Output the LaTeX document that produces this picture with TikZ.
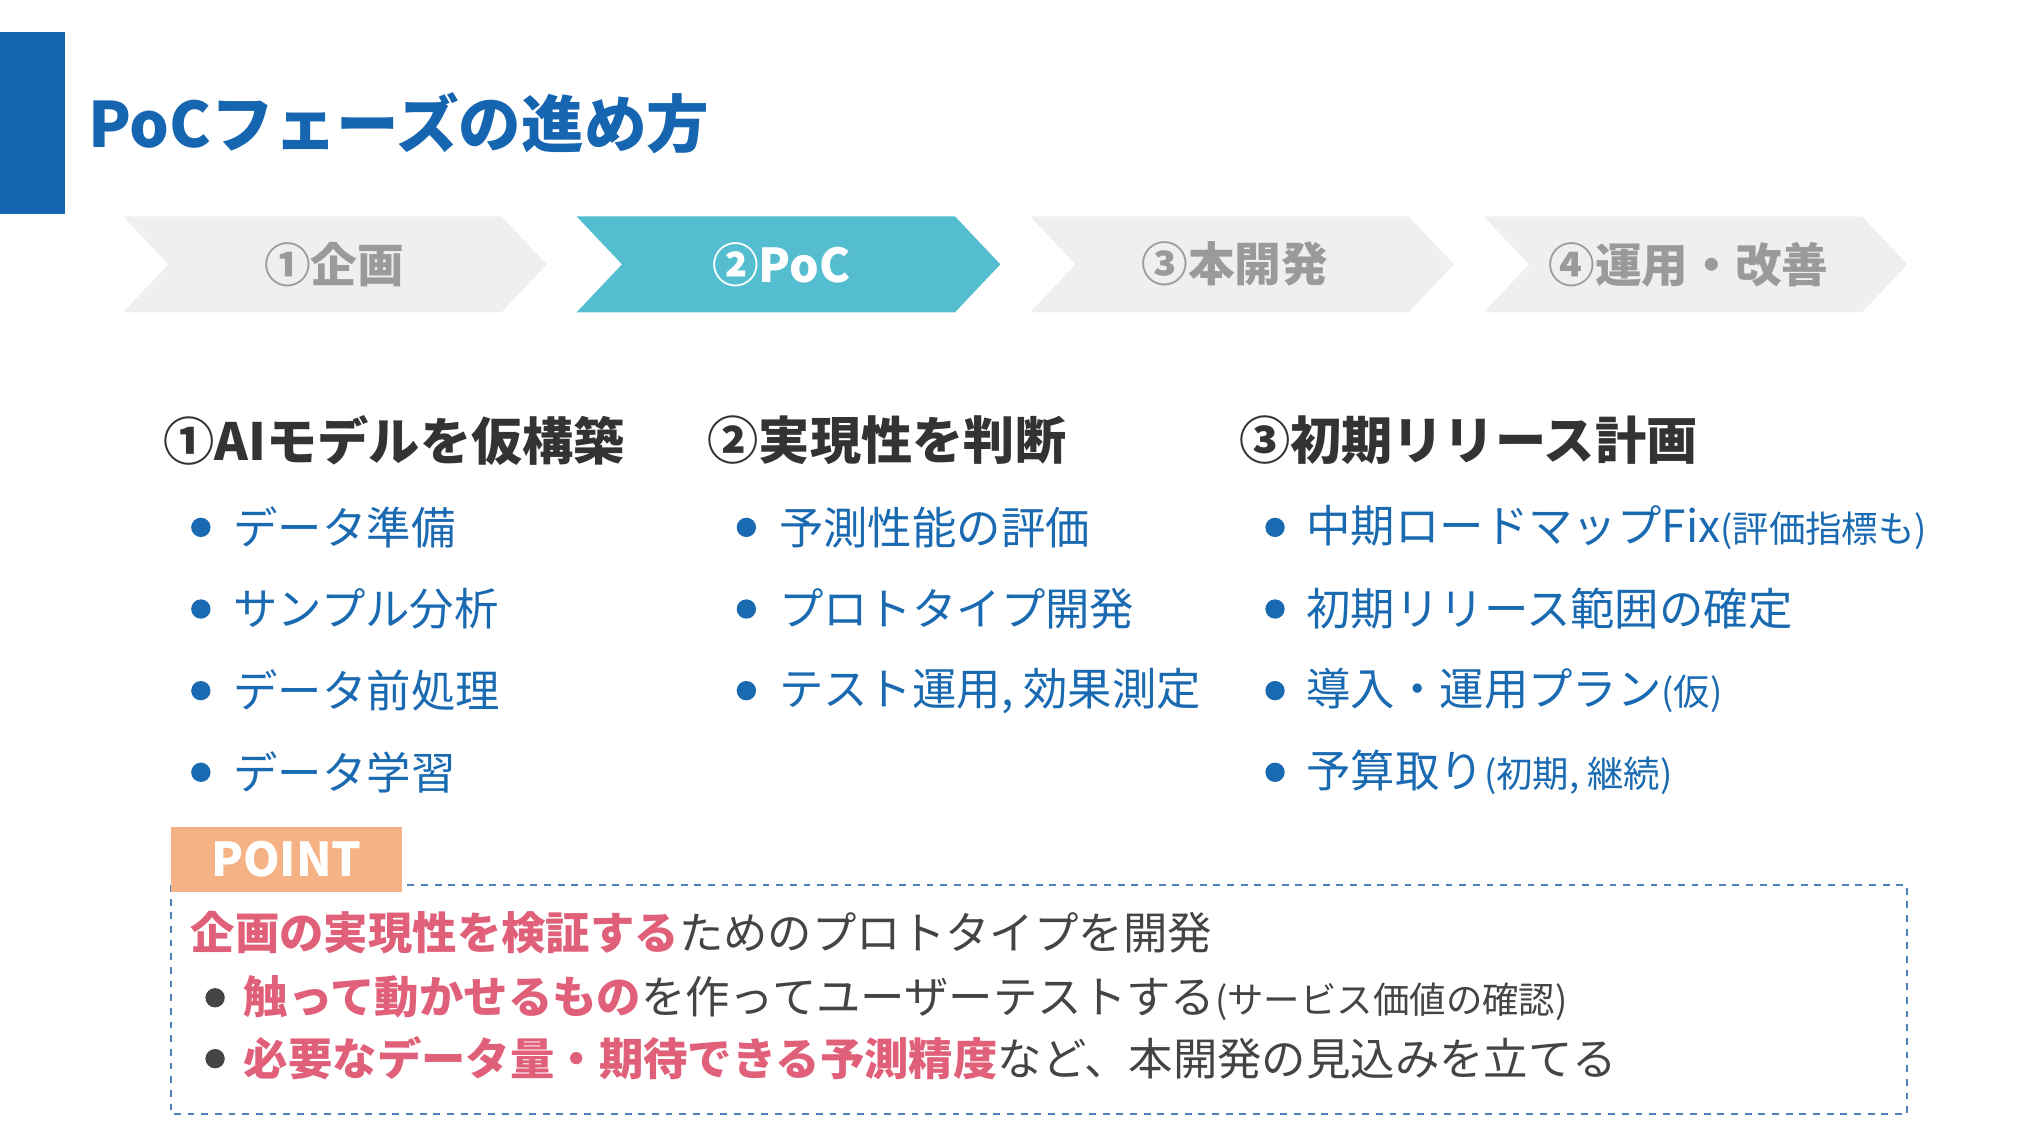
\documentclass[tikz,border=0pt]{standalone}
\usepackage{fontspec}
\setmainfont{Noto Sans CJK JP}
\begin{document}
\begin{tikzpicture}[x=0.02cm,y=-0.02cm,
  chev/.style={fill=chevgray},
  chevtxt/.style={font=\fontsize{20.5}{22}\selectfont\bfseries,text=txtgray},
  head/.style={anchor=west,font=\fontsize{22.5}{24}\selectfont\bfseries,text=headc},
  item/.style={anchor=west,font=\fontsize{19.5}{22}\selectfont,text=bluet},
  dot/.style={circle,fill=bluet,inner sep=0pt,minimum size=8.5pt},
  pt/.style={anchor=west,font=\fontsize{19.5}{22}\selectfont,text=darkt}]
\definecolor{barblue}{HTML}{1565B0}
\definecolor{chevgray}{HTML}{EFEFEF}
\definecolor{txtgray}{HTML}{9A9A9A}
\definecolor{active}{HTML}{55BDD0}
\definecolor{headc}{HTML}{333333}
\definecolor{bluet}{HTML}{1A6AB2}
\definecolor{darkt}{HTML}{444444}
\definecolor{redt}{HTML}{E0607A}
\definecolor{orng}{HTML}{F5B284}
\definecolor{dashc}{HTML}{4A7FC0}
\useasboundingbox (0,0) rectangle (1562,876);
\fill[barblue] (0,25) rectangle (50,165);
\node[anchor=west,text=barblue,font=\fontsize{27.5}{30}\selectfont\bfseries] (title) at (62,95) {PoCフェーズの進め方};
\foreach \i/\x/\c in {1/95/chevgray,2/445/active,3/795/chevgray,4/1145/chevgray}{
  \fill[\c] (\x,167) -- (\x+292,167) -- (\x+327,204) -- (\x+292,241) -- (\x,241) -- (\x+35,204) -- cycle;
}
\node[chevtxt] (c1) at (258,204) {①企画};
\node[chevtxt,text=white] (c2) at (603,204) {②PoC};
\node[chevtxt] (c3) at (953,204) {③本開発};
\node[chevtxt] (c4) at (1303,204) {④運用・改善};
\node[head] (h1) at (120,340) {①AIモデルを仮構築};
\node[head] (h2) at (540,340) {②実現性を判断};
\node[head] (h3) at (950,340) {③初期リリース計画};
\foreach \t [count=\k] in {データ準備,サンプル分析,データ前処理,データ学習}{
  \node[dot] (da\k) at (155,344+63*\k) {};
  \node[item] (a\k) at (174,344+63*\k) {\t};
}
\foreach \t [count=\k] in {予測性能の評価,プロトタイプ開発,{テスト運用, 効果測定}}{
  \node[dot] (db\k) at (576,344+63*\k) {};
  \node[item] (b\k) at (595,344+63*\k) {\t};
}
\node[dot] (dc1) at (984,407) {};
\node[item] (c1i) at (1002,407) {中期ロードマップFix{\fontsize{16}{18}\selectfont(評価指標も)}};
\node[dot] (dc2) at (984,470) {};
\node[item] (c2i) at (1002,470) {初期リリース範囲の確定};
\node[dot] (dc3) at (984,533) {};
\node[item] (c3i) at (1002,533) {導入・運用プラン{\fontsize{16}{18}\selectfont(仮)}};
\node[dot] (dc4) at (984,596) {};
\node[item] (c4i) at (1002,596) {予算取り{\fontsize{16}{18}\selectfont(初期, 継続)}};
\draw[dashc,dashed,line width=0.8pt] (132,683) rectangle (1472,860);
\fill[orng] (132,638) rectangle (310,688);
\node[text=white,font=\fontsize{20.5}{22}\selectfont\bfseries] (point) at (221,663) {POINT};
\node[pt] (p1) at (141,720) {{\color{redt}\bfseries 企画の実現性を検証する}ためのプロトタイプを開発};
\node[dot,fill=darkt] (dp2) at (166,770) {};
\node[pt] (p2) at (182,770) {{\color{redt}\bfseries 触って動かせるもの}を作ってユーザーテストする{\fontsize{16}{18}\selectfont(サービス価値の確認)}};
\node[dot,fill=darkt] (dp3) at (166,817) {};
\node[pt] (p3) at (182,817) {{\color{redt}\bfseries 必要なデータ量・期待できる予測精度}など、本開発の見込みを立てる};
\end{tikzpicture}
\end{document}
